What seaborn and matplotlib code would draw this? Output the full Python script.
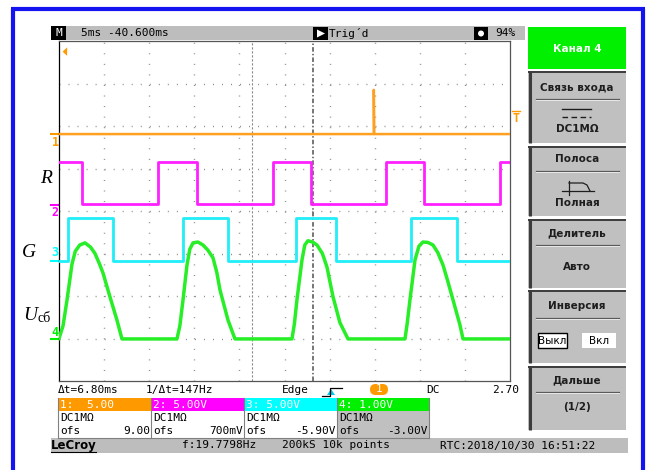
import numpy as np
import pandas as pd
import seaborn as sns
import matplotlib.pyplot as plt
from matplotlib.patches import Rectangle, Polygon, FancyBboxPatch, Circle

# ---- data (time in ms, level in divisions from bottom) ----
ch1_t = [0.0, 34.90, 34.90, 34.95, 50.0]
ch1_v = [5.81, 5.81, 6.85, 5.81, 5.81]

ch2_edges = [2.55, 10.98, 15.30, 23.72, 27.94, 36.25, 40.46, 48.89]
ch2_low, ch2_high = 4.16, 5.15

ch3_edges = [1.00, 5.99, 13.75, 18.74, 26.27, 30.71, 39.02, 44.12]
ch3_low, ch3_high = 2.82, 3.84

ch4_t = [0.0, 0.45, 0.89, 1.44, 1.8, 2.3, 2.88, 3.5, 3.99, 4.5, 4.88, 5.65, 6.43, 6.98,
         13.08, 13.4, 13.75, 14.19, 14.5, 14.86, 15.4, 15.96, 16.5, 17.07, 17.5, 17.85, 18.74, 19.51,
         25.83, 26.1, 26.38, 26.94, 27.25, 27.6, 28.1, 28.6, 29.2, 29.71, 30.38, 31.15, 32.04,
         38.36, 38.6, 38.91, 39.47, 39.9, 40.35, 40.9, 41.46, 42.0, 42.57, 43.1, 43.68, 44.45, 44.79, 50.0]
ch4_v = [1.0, 1.3, 1.91, 2.75, 3.05, 3.2, 3.25, 3.15, 3.0, 2.75, 2.54, 1.98, 1.43, 0.99,
         0.99, 1.3, 1.91, 2.73, 3.1, 3.25, 3.27, 3.2, 3.08, 2.9, 2.55, 2.14, 1.43, 0.99,
         0.99, 1.35, 1.91, 2.85, 3.2, 3.3, 3.27, 3.2, 3.0, 2.68, 1.98, 1.37, 0.99,
         0.99, 1.35, 1.91, 2.85, 3.17, 3.27, 3.26, 3.2, 3.02, 2.73, 2.35, 1.91, 1.32, 0.99, 0.99]

cursors = [21.4, 28.2]

ch_labels = ["1:  5.00", "2: 5.00V", "3: 5.00V", "4: 1.00V"]
ch_ofs = ["9.00", "700mV", "-5.90V", "-3.00V"]
ch_colors = ["#ff9900", "#ff00ff", "#00ffff", "#00f000"]
trace_colors = ["#ffa020", "#ff20ff", "#20eef8", "#28ee28"]

menu_items = [("Связь входа", "DC1MΩ"), ("Полоса", "Полная"),
              ("Делитель", "Авто"), ("Инверсия", ""), ("Дальше", "(1/2)")]


def steps(edges, low, high, start_high):
    xs, ys = [0.0], [high if start_high else low]
    state = start_high
    for e in edges:
        xs += [e, e]
        ys += [high if state else low, low if state else high]
        state = not state
    xs.append(50.0)
    ys.append(high if state else low)
    return xs, ys


W, H = 646, 470
fig = plt.figure(figsize=(W / 100, H / 100), dpi=100)
fig.patch.set_facecolor("white")

# overlay in pixel coordinates for the instrument frame
ov = fig.add_axes([0, 0, 1, 1])
ov.set_xlim(0, W)
ov.set_ylim(H, 0)
ov.axis("off")

MONO = "DejaVu Sans Mono"
SANS = "DejaVu Sans"

# blue bezel
for xs, ys in [([13, 13], [9, 470]), ([11, 645], [9, 9]), ([643, 643], [9, 470])]:
    ov.plot(xs, ys, color="#1414f0", lw=3, solid_capstyle="butt")

# header bar
ov.add_patch(Rectangle((51, 26), 474, 14, fc="#bdbdbd", ec="none"))
ov.add_patch(Rectangle((51, 26), 15, 14, fc="black", ec="none"))
ov.text(58.5, 33.5, "M", color="white", fontsize=8, ha="center", va="center", family=MONO)
ov.text(81, 33.5, "5ms -40.600ms", fontsize=8, va="center", family=MONO)
ov.add_patch(Rectangle((313, 27), 15, 13, fc="black", ec="none"))
ov.add_patch(Polygon([(317, 29.5), (317, 37.5), (325, 33.5)], fc="white", ec="none"))
ov.text(329, 33.5, "Trig\u00b4d", fontsize=8, va="center", family=MONO)
ov.add_patch(Rectangle((474, 27), 14, 13, fc="black", ec="none"))
ov.add_patch(Circle((481, 33.5), 3, fc="white", ec="none"))
ov.text(495, 33.5, "94%", fontsize=8, va="center", family=MONO)

# right menu
ov.add_patch(Rectangle((528, 27), 98, 42, fc="#00f000", ec="none"))
ov.text(577, 49, "Канал 4", color="white", fontsize=7.5, weight="bold",
        ha="center", va="center", family=SANS)
boxes = [(71, 143), (146, 216), (219, 288), (290, 363), (366, 430)]
title_y = [87, 159, 233, 306, 380]
for (y0, y1), ty, (title, val) in zip(boxes, title_y, menu_items):
    ov.add_patch(Rectangle((528, y0), 98, y1 - y0, fc="#c0c0c0", ec="none"))
    ov.plot([529.5, 529.5], [y0, y1], color="#3c3c3c", lw=2.2, solid_capstyle="butt")
    ov.plot([528, 626], [y0 + 0.8, y0 + 0.8], color="#3c3c3c", lw=1.4, solid_capstyle="butt")
    ov.text(577, ty, title, fontsize=7.5, weight="bold", color="#1e1e1e",
            ha="center", va="center", family=SANS)
    ov.plot([536, 619], [ty + 12, ty + 12], color="#5a5a5a", lw=0.9)
    ov.plot([536, 619], [ty + 13, ty + 13], color="#f0f0f0", lw=0.6)
ov.text(577, 129, "DC1MΩ", fontsize=7.5, weight="bold", color="#1e1e1e", ha="center", va="center", family=SANS)
ov.plot([562, 591], [109, 109], color="#1e1e1e", lw=1)
ov.plot([562, 591], [117, 117], color="#1e1e1e", lw=1, ls=(0, (4, 2.5)))
ov.plot([562, 594], [191, 191], color="#1e1e1e", lw=0.9)
ov.plot([569, 569], [181, 195], color="#1e1e1e", lw=0.9)
ov.plot([569, 583, 587, 590], [183, 183, 185, 191], color="#1e1e1e", lw=0.9)
ov.text(577, 203, "Полная", fontsize=7.5, weight="bold", color="#1e1e1e", ha="center", va="center", family=SANS)
ov.text(577, 267, "Авто", fontsize=7.5, weight="bold", color="#1e1e1e", ha="center", va="center", family=SANS)
ov.add_patch(Rectangle((538, 333), 29, 15, fc="white", ec="black", lw=1))
ov.add_patch(Rectangle((582, 333), 34, 15, fc="white", ec="none"))
ov.text(552.5, 340.5, "Выкл", fontsize=7.5, color="black", ha="center", va="center", family=SANS)
ov.text(599, 340.5, "Вкл", fontsize=7.5, color="black", ha="center", va="center", family=SANS)
ov.text(577, 407, "(1/2)", fontsize=7.5, weight="bold", color="#1e1e1e", ha="center", va="center", family=SANS)

# info line under the grid
ov.text(58, 390, "\u0394t=6.80ms", fontsize=8, va="center", family=MONO)
ov.text(146, 390, "1/\u0394t=147Hz", fontsize=8, va="center", family=MONO)
ov.text(282, 390, "Edge", fontsize=8, va="center", family=MONO)
ov.plot([322, 330, 330, 342], [396, 396, 388, 388], color="black", lw=0.9)
ov.add_patch(Polygon([(327, 395), (335, 395), (331, 389)], fc="#00c8f0", ec="none"))
ov.add_patch(FancyBboxPatch((370, 384), 18, 11, boxstyle="round,pad=0,rounding_size=5.5",
                            fc="#ff9900", ec="none"))
ov.text(379, 389.5, "1", color="white", fontsize=8, ha="center", va="center", family=MONO)
ov.text(426, 390, "DC", fontsize=8, va="center", family=MONO)
ov.text(519, 390, "2.70", fontsize=8, ha="right", va="center", family=MONO)

# channel boxes
bx = [58, 151, 244, 337, 429]
for i in range(4):
    x0, x1 = bx[i], bx[i + 1]
    if i == 3:
        ov.add_patch(Rectangle((x0, 411), x1 - x0, 27, fc="#c0c0c0", ec="none"))
    ov.add_patch(Rectangle((x0, 398), x1 - x0, 13, fc=ch_colors[i], ec="none"))
    ov.text(x0 + 2, 404.5, ch_labels[i], color="white", fontsize=8, va="center", family=MONO)
    ov.text(x0 + 2, 418, "DC1MΩ", fontsize=8, va="center", family=MONO)
    ov.text(x0 + 2, 431.5, "ofs", fontsize=8, va="center", family=MONO)
    ov.text(x1 - 1, 431.5, ch_ofs[i], fontsize=8, ha="right", va="center", family=MONO)
for x in bx:
    ov.plot([x, x], [398, 438], color="#808080", lw=0.8)
ov.plot([58, 429], [438, 438], color="#808080", lw=0.8)

# status bar
ov.add_patch(Rectangle((51, 438), 577, 15, fc="#bdbdbd", ec="none"))
ov.text(51, 445.5, "LeCroy", fontsize=8.5, weight="bold", va="center", family=SANS)
ov.plot([51, 96], [452, 452], color="black", lw=0.8)
ov.text(182, 445.5, "f:19.7798Hz", fontsize=8, va="center", family=MONO)
ov.text(282, 445.5, "200kS 10k points", fontsize=8, va="center", family=MONO)
ov.text(440, 445.5, "RTC:2018/10/30 16:51:22", fontsize=8, va="center", family=MONO)

# channel ground markers on the left
marks = [(134, 143, "1"), (205, 213, "2"), (261, 253, "3"), (339, 332, "4")]
for (ly, ty, s), c in zip(marks, ch_colors):
    ov.plot([51, 58], [ly, ly], color=c, lw=1.5)
    ov.text(55, ty, s, color=c, fontsize=8.5, weight="bold", ha="center", va="center", family=MONO)
ov.text(516, 118, "T", color="#ff9900", fontsize=8.5, weight="bold", ha="center", va="center", family=MONO)
ov.plot([512, 520], [111, 111], color="#ff9900", lw=1)

# handwritten-style labels
SERIF = "Liberation Serif"
r = ov.text(40, 183, "R", fontsize=14, style="italic", family=SERIF, va="baseline")
r.set_clip_path(Rectangle((0, 0), 52, H, transform=ov.transData))
ov.text(22, 257, "G", fontsize=14, style="italic", family=SERIF, va="baseline")
ov.text(23, 320, "U", fontsize=14, style="italic", family=SERIF, va="baseline")
ov.text(38, 322, "сб", fontsize=10, family=SERIF, va="baseline")

# ---- the scope grid ----
ax = fig.add_axes([59 / W, 1 - 381 / H, 451 / W, 340 / H])
ax.set_facecolor("white")
for i in range(1, 10):
    ax.axvline(i * 5, color="#8a8a8a", lw=1, ls=(0, (0.7, 6.9)), zorder=1)
for j in range(1, 8):
    ax.axhline(j, color="#8a8a8a", lw=1, ls=(0, (0.7, 5.8)), zorder=1)
ax.axvline(cursors[0], color="#8a8a8a", lw=0.8, ls=(0, (2, 1.6)), zorder=1)
ax.axvline(cursors[1], color="#6a6a6a", lw=1.3, ls=(0, (2.5, 1.2, 0.8, 1.2)), zorder=1)

x2, y2 = steps(ch2_edges, ch2_low, ch2_high, True)
x3, y3 = steps(ch3_edges, ch3_low, ch3_high, False)
traces = [(ch1_t, ch1_v, 1.8), (x2, y2, 2.0), (x3, y3, 2.0), (ch4_t, ch4_v, 2.5)]
for (xs, ys, lw), c in zip(traces, trace_colors):
    df = pd.DataFrame({"t": xs, "v": ys})
    sns.lineplot(data=df, x="t", y="v", sort=False, estimator=None, color=c,
                 lw=lw, ax=ax, zorder=3, solid_joinstyle="round")

ax.add_patch(Polygon([(0.9, 7.85), (0.9, 7.65), (0.4, 7.75)], fc="#ff9900", ec="none", zorder=4))
ax.set_xlim(0, 50)
ax.set_ylim(0, 8)
ax.set_xticks([])
ax.set_yticks([])
ax.set_xlabel("")
ax.set_ylabel("")
for side, sp in ax.spines.items():
    sp.set_color("#555555")
    sp.set_linewidth(0.9)
ax.spines["left"].set_color("black")

fig.savefig("out.png", dpi=100)
